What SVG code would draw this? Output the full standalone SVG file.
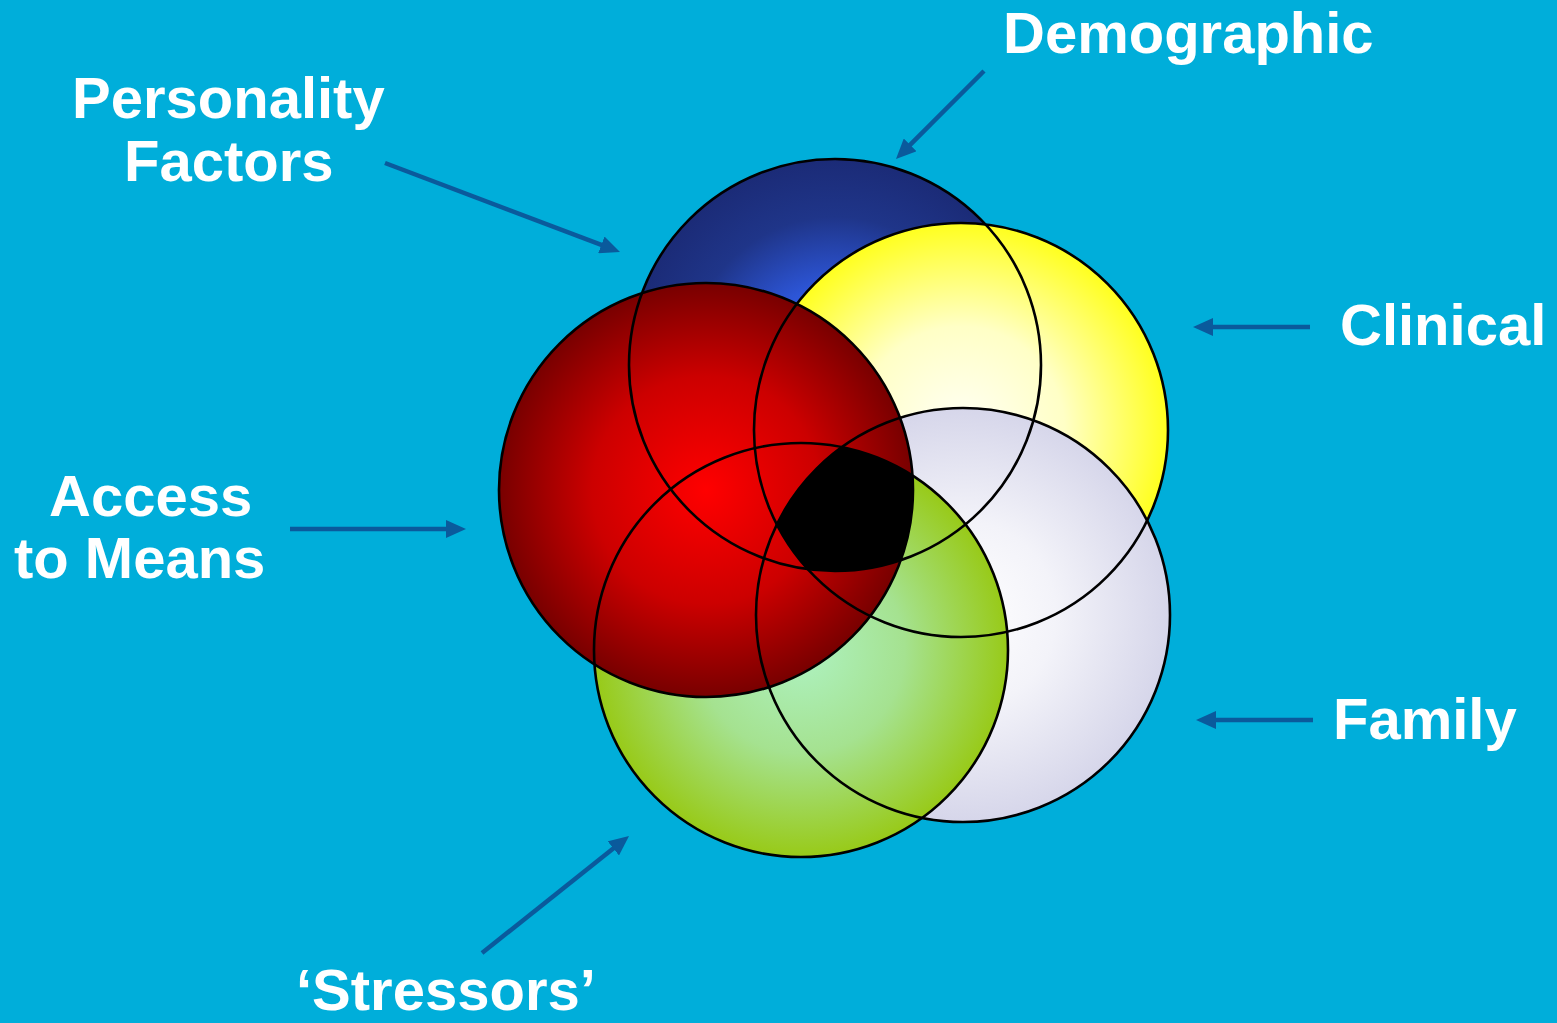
<svg xmlns="http://www.w3.org/2000/svg" width="1557" height="1023" viewBox="0 0 1557 1023">
  <style>
    .lbl { font-family: "Liberation Sans", Arial, sans-serif; font-weight: bold; font-size: 58px; fill: #FFFFFF; }
    .outline { fill: none; stroke: #000000; stroke-width: 2.6; }
    .conn { stroke: #0A5A9C; stroke-width: 4.5; fill: none; marker-end: url(#arrow); }
  </style>
  <defs>
    <marker id="arrow" markerUnits="userSpaceOnUse" markerWidth="20" markerHeight="18" viewBox="0 0 20 18" refX="5" refY="9" orient="auto">
      <path d="M0,0 L20,9 L0,18 Z" fill="#0A5A9C"/>
    </marker>
    <radialGradient id="gBlue" gradientUnits="userSpaceOnUse" cx="835" cy="365" r="206">
      <stop offset="0" stop-color="#3468FF"/>
      <stop offset="0.38" stop-color="#2D56D8"/>
      <stop offset="0.72" stop-color="#1F3589"/>
      <stop offset="1" stop-color="#1B2B77"/>
    </radialGradient>
    <radialGradient id="gYellow" gradientUnits="userSpaceOnUse" cx="961" cy="430" r="207">
      <stop offset="0" stop-color="#FFFFF6"/>
      <stop offset="0.5" stop-color="#FFFFC6"/>
      <stop offset="1" stop-color="#FFFF1E"/>
    </radialGradient>
    <radialGradient id="gWhite" gradientUnits="userSpaceOnUse" cx="963" cy="615" r="207">
      <stop offset="0" stop-color="#FFFFFF"/>
      <stop offset="0.45" stop-color="#F3F3F9"/>
      <stop offset="1" stop-color="#D6D6EA"/>
    </radialGradient>
    <radialGradient id="gGreen" gradientUnits="userSpaceOnUse" cx="801" cy="650" r="207">
      <stop offset="0" stop-color="#AEF2C2"/>
      <stop offset="0.5" stop-color="#A5E290"/>
      <stop offset="1" stop-color="#98CA18"/>
    </radialGradient>
    <radialGradient id="gRed" gradientUnits="userSpaceOnUse" cx="706" cy="490" r="207">
      <stop offset="0" stop-color="#FF0000"/>
      <stop offset="0.55" stop-color="#CC0000"/>
      <stop offset="1" stop-color="#780000"/>
    </radialGradient>
    <clipPath id="cRed"><circle cx="706" cy="490" r="207"/></clipPath>
    <clipPath id="cBlue"><circle cx="835" cy="365" r="206"/></clipPath>
    <clipPath id="cGreen"><circle cx="801" cy="650" r="207"/></clipPath>
    <clipPath id="cYellow"><circle cx="961" cy="430" r="207"/></clipPath>
  </defs>

  <rect x="0" y="0" width="1557" height="1023" fill="#00AEDA"/>

  <g id="demographic">
    <circle cx="835" cy="365" r="206" fill="url(#gBlue)"/>
    <text class="lbl" x="1003" y="53">Demographic</text>
  </g>
  <g id="clinical">
    <circle cx="961" cy="430" r="207" fill="url(#gYellow)"/>
    <text class="lbl" x="1340" y="345">Clinical</text>
  </g>
  <g id="family">
    <circle cx="963" cy="615" r="207" fill="url(#gWhite)"/>
    <text class="lbl" x="1333" y="739">Family</text>
  </g>
  <g id="stressors">
    <circle cx="801" cy="650" r="207" fill="url(#gGreen)"/>
    <text class="lbl" x="296" y="1010">‘Stressors’</text>
  </g>
  <g id="access-to-means">
    <circle cx="706" cy="490" r="207" fill="url(#gRed)"/>
    <text class="lbl" x="49" y="516">Access</text>
    <text class="lbl" x="14" y="578">to Means</text>
  </g>
  <g id="personality-factors">
    <text class="lbl" x="72" y="118">Personality</text>
    <text class="lbl" x="124" y="181">Factors</text>
  </g>

  <g id="core-intersection">
    <g clip-path="url(#cRed)">
      <g clip-path="url(#cBlue)">
        <g clip-path="url(#cGreen)">
          <g clip-path="url(#cYellow)">
            <circle cx="963" cy="615" r="207" fill="#000000"/>
          </g>
        </g>
      </g>
    </g>
  </g>

  <g id="outlines">
    <circle class="outline" cx="835" cy="365" r="206"/>
    <circle class="outline" cx="961" cy="430" r="207"/>
    <circle class="outline" cx="963" cy="615" r="207"/>
    <circle class="outline" cx="801" cy="650" r="207"/>
    <circle class="outline" cx="706" cy="490" r="207"/>
  </g>

  <g id="connectors">
    <line class="conn" x1="385" y1="163" x2="606" y2="246.7"/>
    <line class="conn" x1="984" y1="71" x2="906.6" y2="148.4"/>
    <line class="conn" x1="1310" y1="327" x2="1208" y2="327"/>
    <line class="conn" x1="290" y1="529" x2="451" y2="529"/>
    <line class="conn" x1="1313" y1="720" x2="1211" y2="720"/>
    <line class="conn" x1="482" y1="953" x2="617.3" y2="845.3"/>
  </g>
</svg>
